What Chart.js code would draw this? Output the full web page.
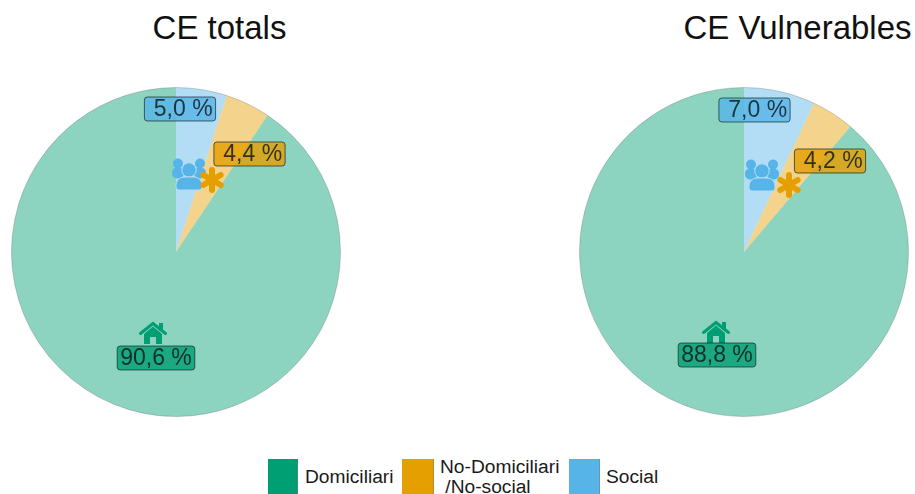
<!DOCTYPE html>
<html>
<head>
<meta charset="utf-8">
<script src="https://cdn.jsdelivr.net/npm/chart.js@4"></script>
<style>
  html, body { margin: 0; padding: 0; background: #fff; }
  body { position: relative; width: 915px; height: 494px; overflow: hidden; font-family: "Liberation Sans", sans-serif; color: #1a1a1a; }
  canvas { position: absolute; top: 72px; }
  .title { position: absolute; top: 8px; font-size: 33px; line-height: 40px; white-space: nowrap; transform: translateX(-50%); color: #111; }
  .key { position: absolute; top: 459px; height: 35px; box-shadow: inset -1px 0 0 rgba(120,120,120,.5); }
  .legend-text { position: absolute; font-size: 19.2px; line-height: 20px; white-space: pre; }
</style>
</head>
<body>
<div class="title" style="left:219.5px">CE totals</div>
<div class="title" style="left:797.5px">CE Vulnerables</div>
<div style="position:absolute;left:0;top:72px;width:352px;height:360px"><canvas id="totalsChart" width="352" height="360" style="top:0;left:0"></canvas></div>
<div style="position:absolute;left:568px;top:72px;width:352px;height:360px"><canvas id="vulnerablesChart" width="352" height="360" style="top:0;left:0"></canvas></div>
<div id="legend"></div>
<script>
const categories = ['Social', 'No-Domiciliari/No-social', 'Domiciliari'];
const totalsValues = [5.0, 4.4, 90.6];
const vulnerablesValues = [7.0, 4.2, 88.8];
const legendNames = ['Domiciliari', 'No-Domiciliari\n /No-social', 'Social'];

const baseColors = ['86,180,233', '230,159,0', '0,158,115'];

// Offsets from the pie centre, one per slice: badge centre and icon centre
const totalsPlacement = {
  badges: [[4, -143], [73.5, -98], [-20, 106]],
  icons: [[13, -78], [36, -72], [-23, 81]],
};
const vulnerablesPlacement = {
  badges: [[10.5, -142], [86, -91], [-27, 103]],
  icons: [[18, -77], [45, -67], [-28, 80]],
};

const roundedBox = (ctx, x, y, w, h, r) => {
  ctx.beginPath();
  ctx.roundRect(x, y, w, h, r);
};

const drawPeople = (ctx, x, y, color) => {
  ctx.fillStyle = color;
  ctx.strokeStyle = '#b3dcf5';
  ctx.lineWidth = 1;
  [[-11, -10.5], [11, -10.5]].forEach(([dx, dy]) => {
    ctx.beginPath();
    ctx.arc(x + dx, y + dy, 5, 0, Math.PI * 2);
    ctx.fill();
    roundedBox(ctx, x + dx - 6, y + dy + 4, 12, 11, 5);
    ctx.fill();
  });
  ctx.beginPath();
  ctx.arc(x, y - 4, 7.2, 0, Math.PI * 2);
  ctx.fill();
  ctx.stroke();
  roundedBox(ctx, x - 13, y + 3, 26, 13, [8, 8, 3, 3]);
  ctx.fill();
  ctx.stroke();
};

const drawAsterisk = (ctx, x, y, color) => {
  ctx.strokeStyle = color;
  ctx.lineWidth = 6;
  ctx.lineCap = 'round';
  for (let i = 0; i < 6; i++) {
    const a = (i * Math.PI) / 3 - Math.PI / 2;
    ctx.beginPath();
    ctx.moveTo(x, y);
    ctx.lineTo(x + Math.cos(a) * 10, y + Math.sin(a) * 10);
    ctx.stroke();
  }
  ctx.lineCap = 'butt';
};

const drawHouse = (ctx, x, y, color) => {
  ctx.fillStyle = color;
  ctx.strokeStyle = color;
  ctx.lineWidth = 3;
  ctx.lineCap = 'round';
  ctx.beginPath();
  ctx.moveTo(x - 12.5, y + 0.5);
  ctx.lineTo(x, y - 9.5);
  ctx.lineTo(x + 12.5, y + 0.5);
  ctx.stroke();
  ctx.lineCap = 'butt';
  ctx.fillRect(x + 6, y - 10, 4, 8);
  ctx.beginPath();
  ctx.moveTo(x - 9, y + 1);
  ctx.lineTo(x, y - 6.5);
  ctx.lineTo(x + 9, y + 1);
  ctx.lineTo(x + 9, y + 11);
  ctx.lineTo(x + 3, y + 11);
  ctx.lineTo(x + 3, y + 4);
  ctx.lineTo(x - 3, y + 4);
  ctx.lineTo(x - 3, y + 11);
  ctx.lineTo(x - 9, y + 11);
  ctx.closePath();
  ctx.fill();
};

const iconDrawers = [drawPeople, drawAsterisk, drawHouse];

const pieDecorations = {
  id: 'pieDecorations',
  afterDatasetsDraw(chart, args, opts) {
    const { ctx } = chart;
    const arcs = chart.getDatasetMeta(0).data;
    const { x, y, outerRadius } = arcs[0];
    const values = chart.data.datasets[0].data;

    ctx.save();
    ctx.beginPath();
    ctx.arc(x, y, outerRadius, 0, Math.PI * 2);
    ctx.strokeStyle = 'rgba(110,110,110,.4)';
    ctx.lineWidth = 0.8;
    ctx.stroke();

    values.forEach((v, i) => {
      const [ix, iy] = opts.placement.icons[i];
      iconDrawers[i](ctx, x + ix, y + iy, `rgb(${baseColors[i]})`);
    });

    values.forEach((v, i) => {
      const [bx, by] = opts.placement.badges[i];
      // Single digit labels carry a leading space, so their text sits right of centre
      const text = `${v < 10 ? ' ' : ''}${v.toFixed(1).replace('.', ',')} %`;
      const cx = x + bx;
      const cy = y + by;
      ctx.font = '23px "Liberation Sans"';
      const boxWidth = ctx.measureText(text).width + 6;
      roundedBox(ctx, cx - boxWidth / 2, cy - 12, boxWidth, 24, 3);
      ctx.fillStyle = `rgba(${baseColors[i]},.8)`;
      ctx.fill();
      ctx.strokeStyle = 'rgba(20,40,40,.7)';
      ctx.lineWidth = 1;
      ctx.stroke();
      ctx.fillStyle = 'rgba(10,20,20,.8)';
      ctx.textAlign = 'center';
      ctx.textBaseline = 'middle';
      ctx.fillText(text, cx, cy + 1);
    });
    ctx.restore();
  },
};

const renderPie = (canvasId, values, placement) => {
  new Chart(document.getElementById(canvasId), {
    type: 'pie',
    data: {
      labels: categories,
      datasets: [
        {
          data: values,
          backgroundColor: baseColors.map(c => `rgba(${c},.45)`),
          borderWidth: 0,
        },
      ],
    },
    options: {
      responsive: false,
      animation: false,
      radius: 164.5,
      layout: { padding: 0 },
      plugins: {
        legend: { display: false },
        tooltip: { enabled: false },
        pieDecorations: { placement },
      },
    },
    plugins: [pieDecorations],
  });
};

const renderLegend = () => {
  const keyBoxes = [[268, 30], [402, 32], [569, 31]];
  const textBoxes = [[305, 467], [440, 457], [606, 467]];
  const colors = [baseColors[2], baseColors[1], baseColors[0]];
  document.getElementById('legend').innerHTML = legendNames
    .map(
      (name, i) =>
        `<div class="key" style="left:${keyBoxes[i][0]}px;width:${keyBoxes[i][1]}px;background:rgb(${colors[i]})"></div>` +
        `<div class="legend-text" style="left:${textBoxes[i][0]}px;top:${textBoxes[i][1]}px">${name}</div>`
    )
    .join('');
};

renderPie('totalsChart', totalsValues, totalsPlacement);
renderPie('vulnerablesChart', vulnerablesValues, vulnerablesPlacement);
renderLegend();
</script>
</body>
</html>
